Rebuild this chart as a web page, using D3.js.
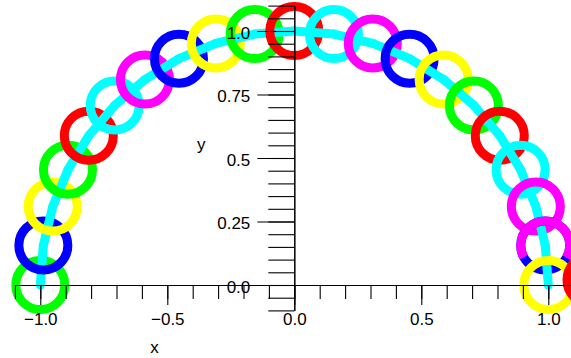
<!DOCTYPE html>
<html>
<head>
<meta charset="utf-8">
<script src="https://cdn.jsdelivr.net/npm/d3@7"></script>
<style>
  body { margin: 0; background: #fff; }
  svg { display: block; }
</style>
</head>
<body>
<div id="chart"></div>
<script>
// points on the half circle
const xValues = [-1.0, -0.988, -0.951, -0.891, -0.809, -0.707, -0.588, -0.454, -0.309, -0.156, 0.0,
                 0.156, 0.309, 0.454, 0.588, 0.707, 0.809, 0.891, 0.951, 0.988, 1.0];
const yValues = [0.0, 0.156, 0.309, 0.454, 0.588, 0.707, 0.809, 0.891, 0.951, 0.988, 1.0,
                 0.988, 0.951, 0.891, 0.809, 0.707, 0.588, 0.454, 0.309, 0.156, 0.0];
const markerColors = ["#00ff00", "#0000ff", "#ffff00", "#00ff00", "#ff0000", "#00ffff", "#ff00ff",
                      "#0000ff", "#ffff00", "#00ff00", "#ff0000", "#00ffff", "#ff00ff", "#0000ff",
                      "#ffff00", "#00ff00", "#ff0000", "#00ffff", "#ff00ff", "#0000ff", "#ffff00"];

// stray markers near the right end (magenta one only shows over the top of the blue ring)
const extraX = [0.988, 1.17];
const extraY = [0.156, 0.02];
const extraColors = ["#ff00ff", "#ff0000"];
const extraArc = [[150, 390], [0, 360]]; // visible part, degrees clockwise from 3 o'clock

// ticks
const xMinorTicks = [-1.1, -1.0, -0.9, -0.8, -0.7, -0.6, -0.5, -0.4, -0.3, -0.2, -0.1, 0.0,
                     0.1, 0.2, 0.3, 0.4, 0.5, 0.6, 0.7, 0.8, 0.9, 1.0, 1.1];
const xMajorTicks = [-1.0, -0.5, 0.0, 0.5, 1.0];
const xTickLabels = ["\u22121.0", "\u22120.5", "0.0", "0.5", "1.0"];
const yMinorTicks = [-0.1, -0.05, 0.0, 0.05, 0.1, 0.15, 0.2, 0.25, 0.3, 0.35, 0.4, 0.45, 0.5,
                     0.55, 0.6, 0.65, 0.7, 0.75, 0.8, 0.85, 0.9, 0.95, 1.0, 1.05, 1.1];
const yMajorTicks = [0.0, 0.25, 0.5, 0.75, 1.0];
const yTickLabels = ["0.0", "0.25", "0.5", "0.75", "1.0"];

const width = 571;
const height = 358;
const font = "'Liberation Sans', Arial, sans-serif";
const ringR = 24.5;
const ringLen = 2 * Math.PI * ringR;

// same scale on both axes
const x = d3.scaleLinear().domain([-1.1, 1.1]).range([14.9, 573.7]);
const y = d3.scaleLinear().domain([-0.1, 1.1]).range([310.4, 5.6]);

const svg = d3.select("#chart")
    .append("svg")
    .attr("width", width)
    .attr("height", height)
    .attr("viewBox", [0, 0, width, height]);

svg.append("rect").attr("width", width).attr("height", height).attr("fill", "#fff");

// curve: marker, then the segment leaving it
const pts = xValues.map((v, i) => ({x: v, y: yValues[i], color: markerColors[i]}));
const line = d3.line().x(d => x(d.x)).y(d => y(d.y));
const curve = svg.append("g");

pts.forEach((d, i) => {
    curve.append("circle")
        .attr("cx", x(d.x))
        .attr("cy", y(d.y))
        .attr("r", ringR)
        .attr("fill", "none")
        .attr("stroke", d.color)
        .attr("stroke-width", 9);
    if (i < pts.length - 1) {
        curve.append("path")
            .attr("d", line([d, pts[i + 1]]))
            .attr("fill", "none")
            .attr("stroke", "#00ffff")
            .attr("stroke-width", 9)
            .attr("stroke-linecap", "round");
    }
});

curve.selectAll(".extra")
    .data(extraX)
    .join("circle")
        .attr("class", "extra")
        .attr("cx", d => x(d))
        .attr("cy", (d, i) => y(extraY[i]))
        .attr("r", ringR)
        .attr("fill", "none")
        .attr("stroke", (d, i) => extraColors[i])
        .attr("stroke-width", 9)
        .attr("stroke-dasharray", (d, i) => {
            const on = (extraArc[i][1] - extraArc[i][0]) / 360 * ringLen;
            return `${on} ${ringLen - on + 0.01}`;
        })
        .attr("stroke-dashoffset", (d, i) => -extraArc[i][0] / 360 * ringLen);

const styleAxis = g => {
    g.attr("font-family", font).attr("font-size", 17);
    g.selectAll("path, line").attr("stroke", "#000").attr("stroke-width", 1.1);
    g.selectAll("text").attr("fill", "#000");
};

// x axis
const xAxis = svg.append("g").attr("transform", `translate(0, ${y(0)})`);
xAxis.append("g")
    .call(d3.axisBottom(x).tickValues(xMinorTicks).tickSize(14).tickSizeOuter(0).tickFormat(""))
    .call(styleAxis);
xAxis.append("g")
    .call(d3.axisBottom(x).tickValues(xMajorTicks).tickSize(20).tickSizeOuter(0).tickPadding(8)
        .tickFormat((d, i) => xTickLabels[i]))
    .call(styleAxis);

// y axis
const yAxis = svg.append("g").attr("transform", `translate(${x(0)}, 0)`);
yAxis.append("g")
    .call(d3.axisLeft(y).tickValues(yMinorTicks).tickSize(26).tickSizeOuter(0).tickFormat(""))
    .call(styleAxis);
yAxis.append("g")
    .call(d3.axisLeft(y).tickValues(yMajorTicks).tickSize(37).tickSizeOuter(0).tickPadding(7)
        .tickFormat((d, i) => yTickLabels[i]))
    .call(styleAxis)
    .selectAll("text").attr("dy", "0.44em");

// axis titles
svg.append("text")
    .attr("x", (x(-1.1) + x(0)) / 2)
    .attr("y", 353)
    .attr("text-anchor", "middle")
    .attr("font-family", font)
    .attr("font-size", 17)
    .text("x");

svg.append("text")
    .attr("x", x(0) - 93)
    .attr("y", y(0.55))
    .attr("dy", "0.3em")
    .attr("text-anchor", "middle")
    .attr("font-family", font)
    .attr("font-size", 17)
    .text("y");
</script>
</body>
</html>
